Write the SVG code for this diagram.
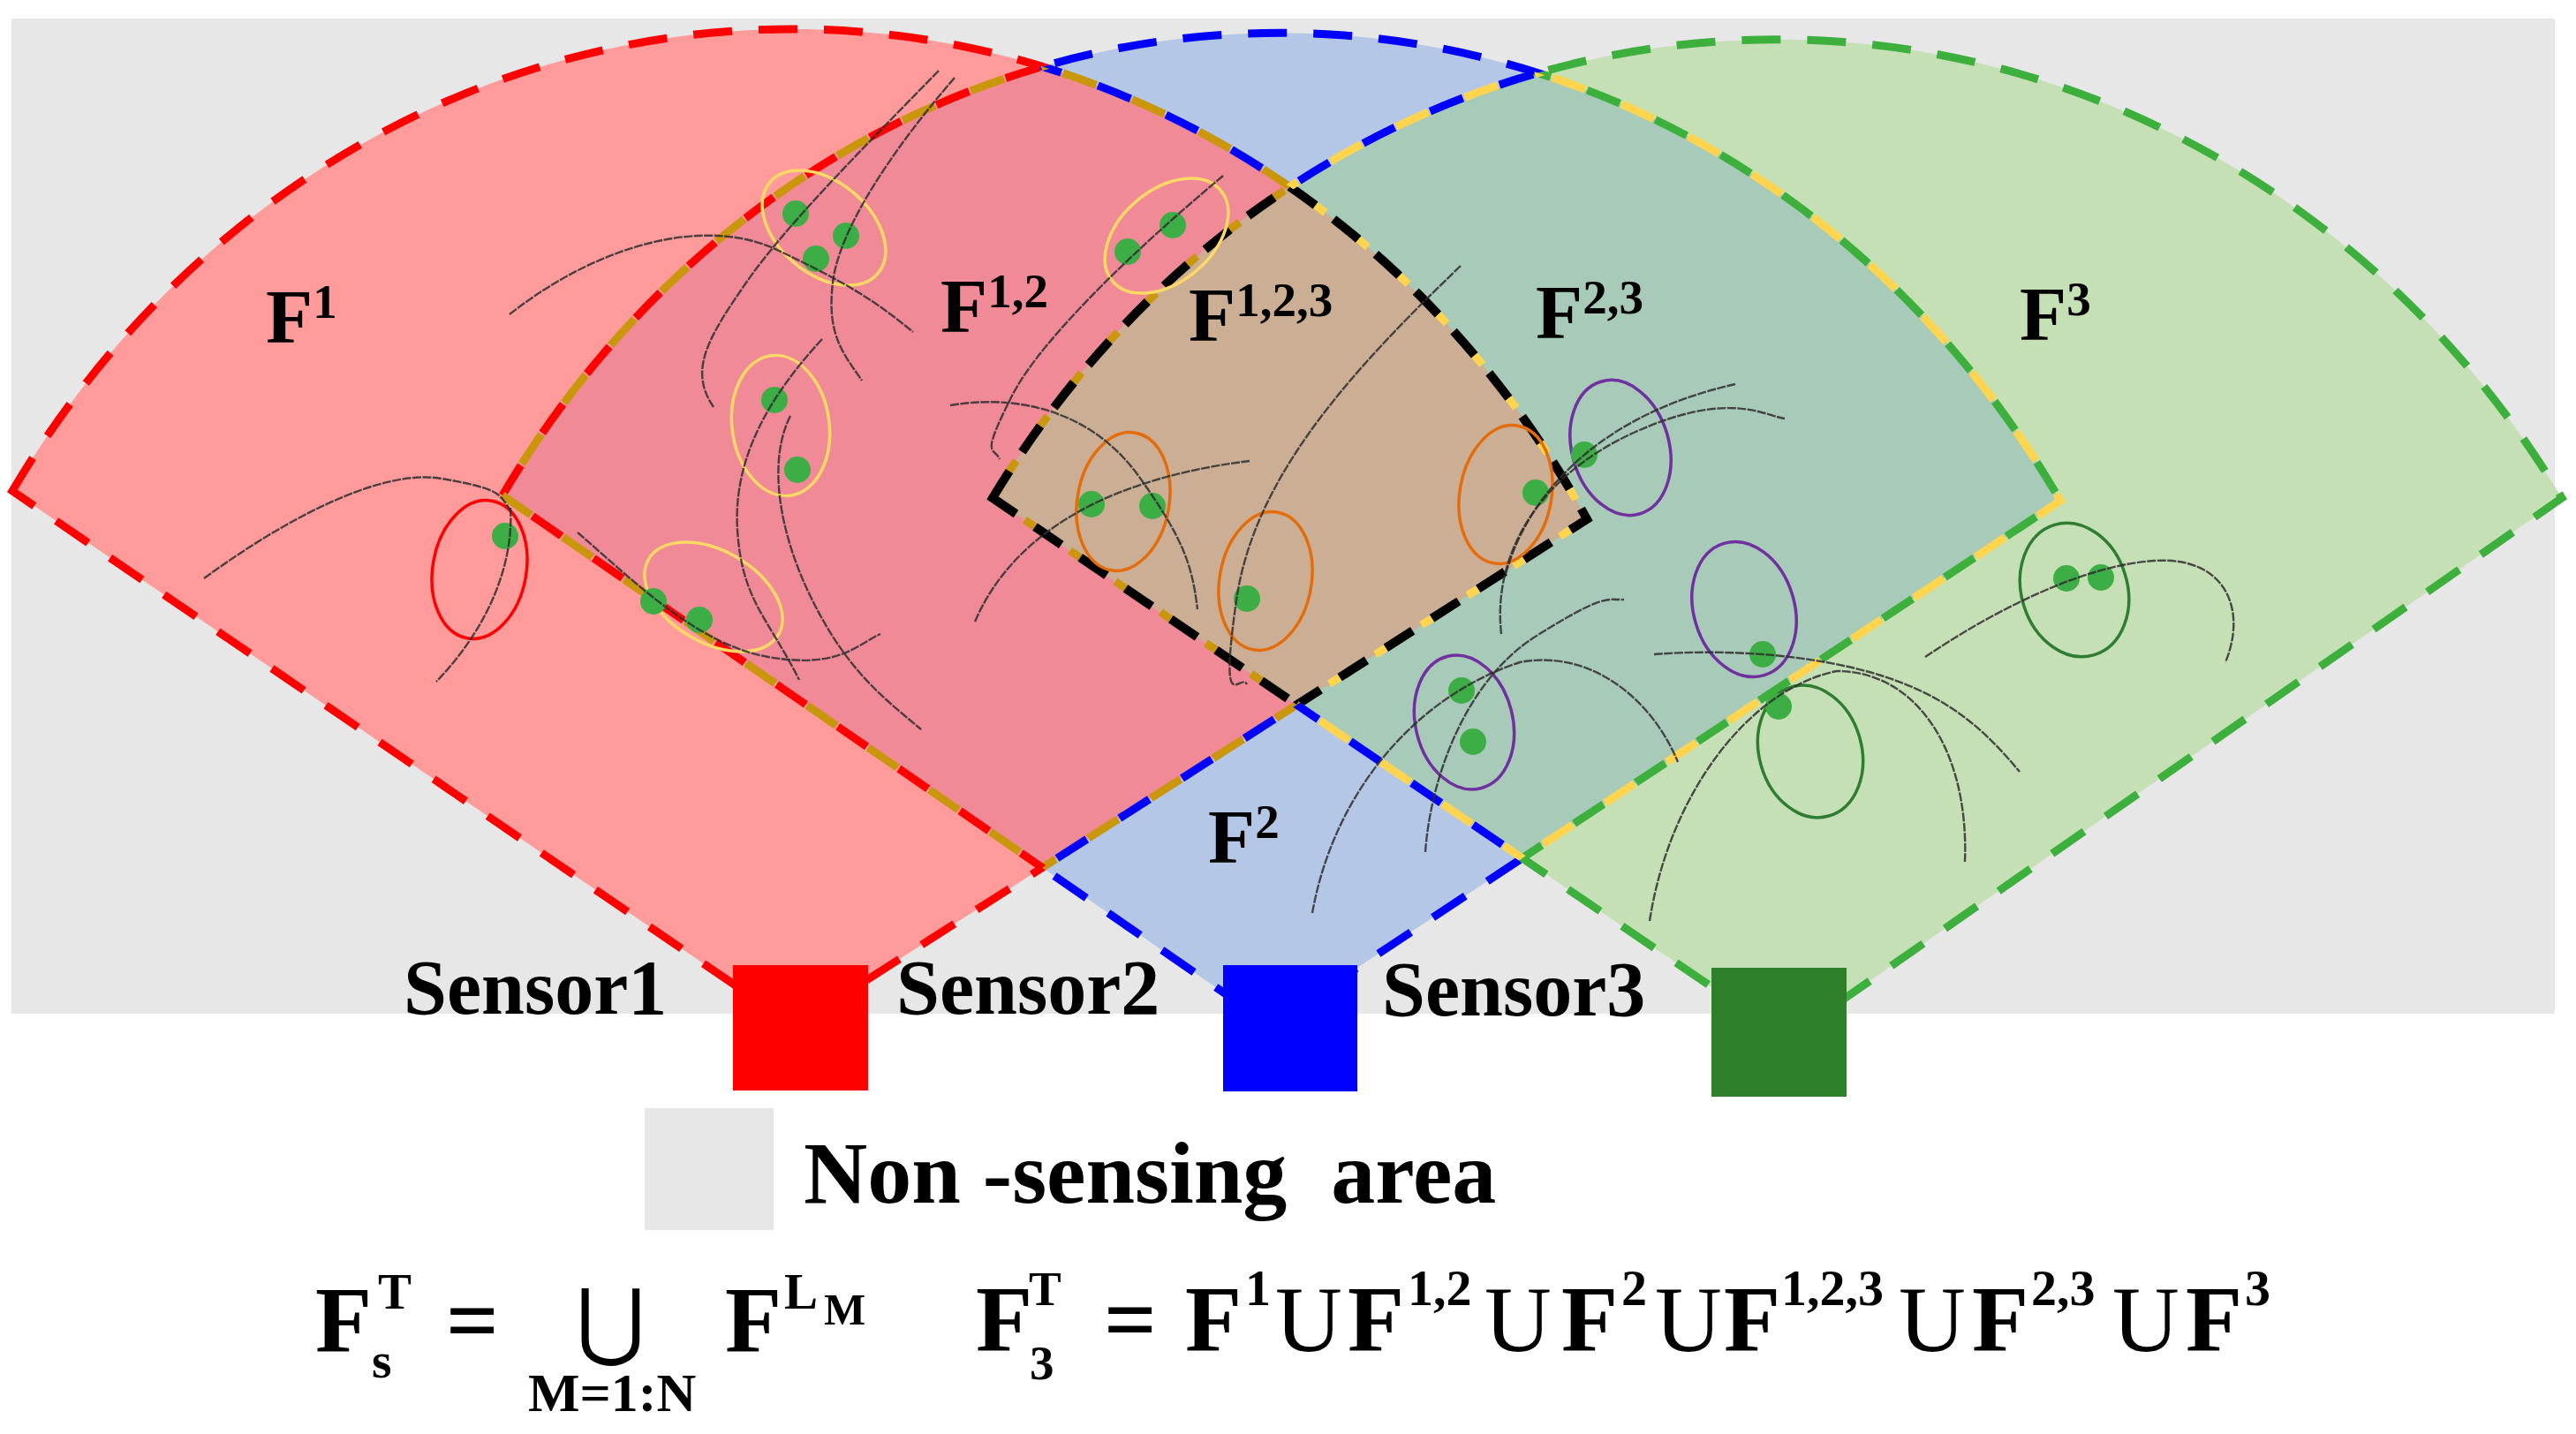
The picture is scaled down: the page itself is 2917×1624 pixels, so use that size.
<svg xmlns="http://www.w3.org/2000/svg" xmlns:xlink="http://www.w3.org/1999/xlink" width="2917" height="1624" viewBox="0 0 2917 1624">
<style>
.d1{stroke-dasharray:44 30}
.dA{stroke-dasharray:40 44}
.dB{stroke-dasharray:40 44;stroke-dashoffset:-42}
.dK{stroke-dasharray:36 26;stroke-width:10}
.dY{stroke-dasharray:14 48;stroke-dashoffset:-36}
.trk{fill:none;stroke:#2e2e2e;stroke-width:2.4;stroke-dasharray:10 1.5;opacity:.85}
.ell{fill:none;stroke-width:3.5}
.dot{fill:#3DAE45}
.lbl{font-family:"Liberation Serif","Times New Roman",serif;font-weight:bold;fill:#000}
.reg{font-family:"Liberation Serif","Times New Roman",serif;font-weight:normal;fill:#000}
</style>
<defs>
<path id="s1" d="M14,556 A1048,1136 0 0 1 1797,588 L900,1162 Z"/>
<path id="s2" d="M569,561 A1045,1136 0 0 1 2333,567 L1439,1161 Z"/>
<path id="s3" d="M1124,564 A1058,1136 0 0 1 2901,564 L2024,1176 Z"/>
<clipPath id="c1"><use xlink:href="#s1"/></clipPath>
<clipPath id="c2"><use xlink:href="#s2"/></clipPath>
<clipPath id="c3"><use xlink:href="#s3"/></clipPath>
<mask id="m_out23" maskUnits="userSpaceOnUse" x="0" y="0" width="2917" height="1624"><rect width="2917" height="1624" fill="#fff"/><use xlink:href="#s2" fill="#000"/><use xlink:href="#s3" fill="#000"/></mask>
<mask id="m_in2out3" maskUnits="userSpaceOnUse" x="0" y="0" width="2917" height="1624"><use xlink:href="#s2" fill="#fff"/><use xlink:href="#s3" fill="#000"/></mask>
<mask id="m_in23" maskUnits="userSpaceOnUse" x="0" y="0" width="2917" height="1624"><g clip-path="url(#c3)"><use xlink:href="#s2" fill="#fff"/></g></mask>
<mask id="m_out13" maskUnits="userSpaceOnUse" x="0" y="0" width="2917" height="1624"><rect width="2917" height="1624" fill="#fff"/><use xlink:href="#s1" fill="#000"/><use xlink:href="#s3" fill="#000"/></mask>
<mask id="m_in1out3" maskUnits="userSpaceOnUse" x="0" y="0" width="2917" height="1624"><use xlink:href="#s1" fill="#fff"/><use xlink:href="#s3" fill="#000"/></mask>
<mask id="m_in3out1" maskUnits="userSpaceOnUse" x="0" y="0" width="2917" height="1624"><use xlink:href="#s3" fill="#fff"/><use xlink:href="#s1" fill="#000"/></mask>
<mask id="m_out12" maskUnits="userSpaceOnUse" x="0" y="0" width="2917" height="1624"><rect width="2917" height="1624" fill="#fff"/><use xlink:href="#s1" fill="#000"/><use xlink:href="#s2" fill="#000"/></mask>
<mask id="m_in2out1" maskUnits="userSpaceOnUse" x="0" y="0" width="2917" height="1624"><use xlink:href="#s2" fill="#fff"/><use xlink:href="#s1" fill="#000"/></mask>
<mask id="m_in12" maskUnits="userSpaceOnUse" x="0" y="0" width="2917" height="1624"><g clip-path="url(#c1)"><use xlink:href="#s2" fill="#fff"/></g></mask>
</defs>
<rect width="2917" height="1624" fill="#fff"/>
<rect id="non-sensing-bg" x="13" y="21" width="2880" height="1127" fill="#E7E7E7"/>
<g id="fields">
<use id="field-1" xlink:href="#s1" fill="#FF9B9B"/>
<use id="field-2" xlink:href="#s2" fill="#B4C7E7"/>
<use id="field-3" xlink:href="#s3" fill="#C5E0B5"/>
<use id="field-12" xlink:href="#s2" fill="#F18A97" clip-path="url(#c1)"/>
<use id="field-23" xlink:href="#s3" fill="#A8CAB8" clip-path="url(#c2)"/>
<g clip-path="url(#c1)"><use id="field-123" xlink:href="#s3" fill="#CBAE93" clip-path="url(#c2)"/></g>
</g>
<g id="connectors" fill="none" stroke-width="9">
<use xlink:href="#s1" stroke="#FF0000" class="d1" mask="url(#m_out23)"/>
<g mask="url(#m_in2out3)"><use xlink:href="#s1" stroke="#0000FF" class="dA"/><use xlink:href="#s1" stroke="#C9960C" class="dB"/></g>
<g mask="url(#m_in23)"><use xlink:href="#s1" stroke="#FFD54F" class="dY"/><use xlink:href="#s1" stroke="#000" class="dK"/></g>
<use xlink:href="#s2" stroke="#0000FF" class="d1" mask="url(#m_out13)"/>
<g mask="url(#m_in1out3)"><use xlink:href="#s2" stroke="#FF0000" class="dA"/><use xlink:href="#s2" stroke="#C9960C" class="dB"/></g>
<g mask="url(#m_in3out1)"><use xlink:href="#s2" stroke="#3CAF3C" class="dA"/><use xlink:href="#s2" stroke="#FFD54F" class="dB"/></g>
<use xlink:href="#s3" stroke="#3CAF3C" class="d1" mask="url(#m_out12)"/>
<g mask="url(#m_in2out1)"><use xlink:href="#s3" stroke="#0000FF" class="dA"/><use xlink:href="#s3" stroke="#FFD54F" class="dB"/></g>
<g mask="url(#m_in12)"><use xlink:href="#s3" stroke="#C9960C" class="dY"/><use xlink:href="#s3" stroke="#000" class="dK"/></g>
</g>
<g id="clusters">
<ellipse class="ell" stroke="#FF0000" cx="543" cy="645" rx="53" ry="79" transform="rotate(10 543 645)"/>
<ellipse class="ell" stroke="#FFD966" cx="933" cy="258" rx="80" ry="52" transform="rotate(40 933 258)"/>
<ellipse class="ell" stroke="#FFD966" cx="884" cy="482" rx="55" ry="80" transform="rotate(-8 884 482)"/>
<ellipse class="ell" stroke="#FFD966" cx="808" cy="676" rx="85" ry="52" transform="rotate(30 808 676)"/>
<ellipse class="ell" stroke="#FFD966" cx="1321" cy="267" rx="80" ry="52" transform="rotate(-40 1321 267)"/>
<ellipse class="ell" stroke="#E46C0A" cx="1272" cy="568" rx="52" ry="79" transform="rotate(10 1272 568)"/>
<ellipse class="ell" stroke="#E46C0A" cx="1433" cy="658" rx="52" ry="79" transform="rotate(10 1433 658)"/>
<ellipse class="ell" stroke="#E46C0A" cx="1705" cy="560" rx="52" ry="79" transform="rotate(10 1705 560)"/>
<ellipse class="ell" stroke="#7030A0" cx="1835" cy="507" rx="55" ry="78" transform="rotate(-16 1835 507)"/>
<ellipse class="ell" stroke="#7030A0" cx="1975" cy="690" rx="57" ry="78" transform="rotate(-17 1975 690)"/>
<ellipse class="ell" stroke="#7030A0" cx="1658" cy="818" rx="55" ry="77" transform="rotate(-14 1658 818)"/>
<ellipse class="ell" stroke="#2E7D32" cx="2050" cy="851" rx="58" ry="76" transform="rotate(-16 2050 851)"/>
<ellipse class="ell" stroke="#2E7D32" cx="2349" cy="668" rx="60" ry="77" transform="rotate(-17 2349 668)"/>
<circle class="dot" cx="572" cy="607" r="15"/>
<circle class="dot" cx="901" cy="242" r="15"/>
<circle class="dot" cx="958" cy="267" r="15"/>
<circle class="dot" cx="924" cy="293" r="15"/>
<circle class="dot" cx="877" cy="453" r="15"/>
<circle class="dot" cx="903" cy="532" r="15"/>
<circle class="dot" cx="740" cy="681" r="15"/>
<circle class="dot" cx="792" cy="702" r="15"/>
<circle class="dot" cx="1277" cy="285" r="15"/>
<circle class="dot" cx="1328" cy="255" r="15"/>
<circle class="dot" cx="1236" cy="571" r="15"/>
<circle class="dot" cx="1305" cy="573" r="15"/>
<circle class="dot" cx="1412" cy="678" r="15"/>
<circle class="dot" cx="1739" cy="558" r="15"/>
<circle class="dot" cx="1794" cy="515" r="15"/>
<circle class="dot" cx="1996" cy="741" r="15"/>
<circle class="dot" cx="2014" cy="800" r="15"/>
<circle class="dot" cx="2340" cy="655" r="15"/>
<circle class="dot" cx="2379" cy="654" r="15"/>
<circle class="dot" cx="1655" cy="782" r="15"/>
<circle class="dot" cx="1668" cy="840" r="15"/>
</g>
<g id="tracks">
<path class="trk" d="M231,655 C320,590 430,530 500,542 S565,560 578,578"/>
<path class="trk" d="M578,575 C582,640 552,712 494,772"/>
<path class="trk" d="M577,356 C680,275 800,245 880,283 S990,340 1034,376"/>
<path class="trk" d="M1063,80 C980,165 890,255 845,320 S780,420 808,461"/>
<path class="trk" d="M1081,88 C1010,170 950,260 943,320 S955,400 976,431"/>
<path class="trk" d="M931,384 C870,450 830,520 835,600 S870,700 905,770"/>
<path class="trk" d="M895,471 C870,520 880,600 920,680 S1000,790 1043,826"/>
<path class="trk" d="M654,603 C720,660 790,730 870,744 S970,730 997,718"/>
<path class="trk" d="M1385,199 C1300,270 1180,380 1145,450 S1125,505 1132,520"/>
<path class="trk" d="M1076,459 C1160,445 1240,470 1290,540 S1350,640 1356,690"/>
<path class="trk" d="M1104,704 C1140,620 1230,545 1415,522"/>
<path class="trk" d="M1654,301 C1530,420 1420,540 1400,680 S1405,760 1412,775"/>
<path class="trk" d="M1700,718 C1690,630 1740,540 1850,490 S2000,472 2021,474"/>
<path class="trk" d="M1705,650 C1730,560 1810,470 1965,435"/>
<path class="trk" d="M1486,1034 C1510,900 1600,790 1721,750 C1800,735 1870,790 1900,863"/>
<path class="trk" d="M1614,965 C1620,880 1660,770 1740,720 S1820,680 1839,679"/>
<path class="trk" d="M1873,741 C1950,735 2050,740 2130,765 S2250,830 2287,874"/>
<path class="trk" d="M1868,1043 C1890,900 1980,780 2080,760 C2170,760 2230,850 2225,976"/>
<path class="trk" d="M2180,744 C2260,690 2360,640 2440,635 C2520,630 2545,690 2520,750"/>
</g>
<g id="region-labels" class="lbl" font-size="87">
<text x="301" y="388">F<tspan font-size="55" dy="-28">1</tspan></text>
<text x="1065" y="376">F<tspan font-size="55" dy="-28">1,2</tspan></text>
<text x="1346" y="386">F<tspan font-size="55" dy="-28">1,2,3</tspan></text>
<text x="1739" y="383">F<tspan font-size="55" dy="-28">2,3</tspan></text>
<text x="2287" y="385">F<tspan font-size="55" dy="-28">3</tspan></text>
<text x="1368" y="977">F<tspan font-size="55" dy="-28">2</tspan></text>
</g>
<g id="sensor1"><rect x="830" y="1093" width="153" height="142" fill="#FF0000"/><text class="lbl" x="457" y="1148" font-size="88">Sensor1</text></g>
<g id="sensor2"><rect x="1385" y="1093" width="152" height="143" fill="#0000FF"/><text class="lbl" x="1015" y="1148" font-size="88">Sensor2</text></g>
<g id="sensor3"><rect x="1938" y="1096" width="153" height="146" fill="#2E802B"/><text class="lbl" x="1565" y="1150" font-size="88">Sensor3</text></g>
<g id="legend"><rect x="730" y="1255" width="146" height="138" fill="#E7E7E7"/><text class="lbl" x="910" y="1362" font-size="100" xml:space="preserve">Non -sensing  area</text></g>
<g id="formula-1">
<text class="lbl" font-size="105"><tspan x="357" y="1531">F</tspan><tspan x="428" y="1482" font-size="57">T</tspan><tspan x="421" y="1560" font-size="58">s</tspan><tspan x="505" y="1531">=</tspan><tspan x="821" y="1531">F</tspan><tspan x="888" y="1482" font-size="57">L</tspan><tspan x="933" y="1500" font-size="50">M</tspan></text>
<text class="lbl" x="598" y="1598" font-size="62">M=1:N</text>
<text x="652" y="1528" font-family="DejaVu Sans, sans-serif" font-size="96" font-weight="200" fill="#000">⋃</text>
</g>
<g id="formula-2">
<text class="lbl" font-size="105"><tspan x="1105" y="1530">F</tspan><tspan x="1165" y="1478" font-size="55">T</tspan><tspan x="1166" y="1562" font-size="55">3</tspan><tspan x="1250" y="1530">=</tspan><tspan x="1342" y="1530">F</tspan><tspan x="1410" y="1478" font-size="58">1</tspan><tspan x="1526" y="1530">F</tspan><tspan x="1594" y="1478" font-size="58">1,2</tspan><tspan x="1768" y="1530">F</tspan><tspan x="1836" y="1478" font-size="58">2</tspan><tspan x="1952" y="1530">F</tspan><tspan x="2017" y="1478" font-size="58">1,2,3</tspan><tspan x="2233" y="1530">F</tspan><tspan x="2300" y="1478" font-size="58">2,3</tspan><tspan x="2475" y="1530">F</tspan><tspan x="2542" y="1478" font-size="58">3</tspan></text>
<text class="reg" font-size="105"><tspan x="1444" y="1530">U</tspan><tspan x="1681" y="1530">U</tspan><tspan x="1874" y="1530">U</tspan><tspan x="2150" y="1530">U</tspan><tspan x="2392" y="1530">U</tspan></text>
</g>
</svg>
